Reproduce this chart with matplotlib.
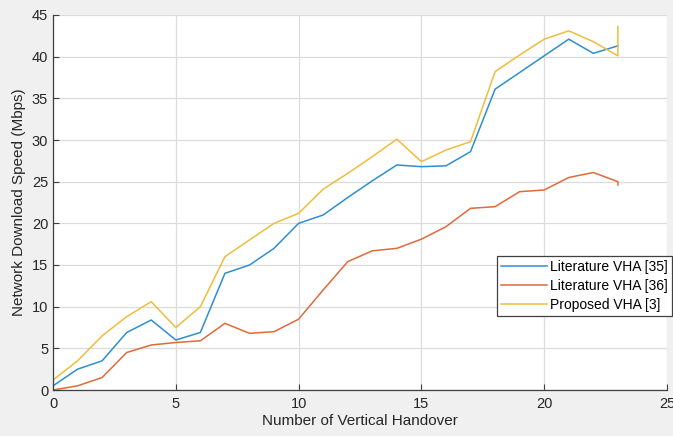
import matplotlib
matplotlib.use("Agg")
import matplotlib.pyplot as plt

plt.rcParams['font.family'] = ['Liberation Sans', 'DejaVu Sans']

handovers = [0, 1, 2, 3, 4, 5, 6, 7, 8, 9, 10, 11, 12, 13, 14, 15, 16, 17, 18, 19, 20, 21, 22, 23, 23]
lit35 = [0.5, 2.5, 3.5, 6.9, 8.4, 6.0, 6.9, 14.0, 15.0, 17.0, 20.0, 21.0, 23.1, 25.1, 27.0, 26.8, 26.9, 28.6,
         36.1, 38.1, 40.1, 42.1, 40.4, 41.3, 41.3]
lit36 = [0.0, 0.5, 1.5, 4.5, 5.4, 5.7, 5.9, 8.0, 6.8, 7.0, 8.5, 12.0, 15.4, 16.7, 17.0, 18.1, 19.6, 21.8,
         22.0, 23.8, 24.0, 25.5, 26.1, 25.0, 24.6]
proposed = [1.2, 3.5, 6.5, 8.8, 10.6, 7.5, 10.0, 16.0, 18.0, 20.0, 21.2, 24.1, 26.0, 28.0, 30.1, 27.4, 28.8, 29.8,
            38.2, 40.2, 42.1, 43.1, 41.8, 40.1, 43.6]
labels = ['Literature VHA [35]', 'Literature VHA [36]', 'Proposed VHA [3]']
colors = ['#2b8fd0', '#e06a3a', '#eebd3a']

fig = plt.figure(figsize=(6.73, 4.36), dpi=100, facecolor='#f0f0f0')
ax = fig.add_axes([53/673, 46/436, 614/673, 375/436])
ax.set_facecolor('white')

for ys, lab, c in zip([lit35, lit36, proposed], labels, colors):
    ax.plot(handovers, ys, color=c, lw=1.1, label=lab)

ax.set_xlim(0, 25)
ax.set_ylim(0, 45)
ax.set_xticks(range(0, 26, 5))
ax.set_yticks(range(0, 46, 5))
ax.grid(True, color='#dcdcdc', lw=0.9)
ax.set_axisbelow(True)
for s in ['top', 'right']:
    ax.spines[s].set_visible(False)
for s in ['left', 'bottom']:
    ax.spines[s].set_color('#404040')
    ax.spines[s].set_linewidth(0.9)
ax.tick_params(direction='in', length=4, colors='#404040', labelsize=10.5, labelcolor='#262626')
ax.tick_params(axis='x', pad=5)
ax.set_xlabel('Number of Vertical Handover', fontsize=11, color='#262626', labelpad=2)
ax.set_ylabel('Network Download Speed (Mbps)', fontsize=11, color='#262626', labelpad=4)

leg = ax.legend(loc='upper right', bbox_to_anchor=(672/673, 1 - 256/436), bbox_transform=fig.transFigure,
                fontsize=10, fancybox=False, framealpha=1, edgecolor='#404040',
                handlelength=3.3, handletextpad=0.2, borderpad=0.3, labelspacing=0.35, borderaxespad=0)
leg.get_frame().set_linewidth(0.9)

fig.savefig('out.png', dpi=100, facecolor=fig.get_facecolor())
